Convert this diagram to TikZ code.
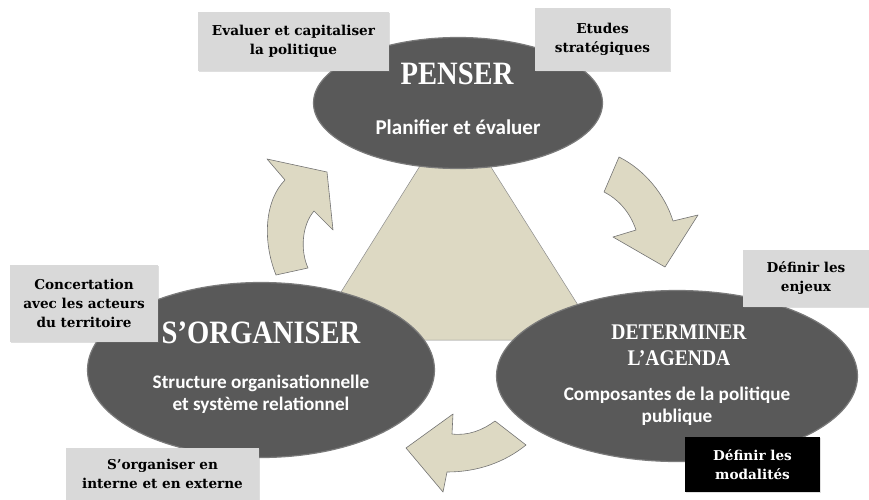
\documentclass[tikz,border=0pt]{standalone}
\usepackage{fontspec}
\usepackage{graphicx}
\setmainfont{Liberation Serif}
\newfontfamily\labelfont{DejaVu Serif}
\newfontfamily\subfont{Carlito}
\usepackage{tikz}
\usetikzlibrary{positioning, shapes.geometric, shadows}
\definecolor{ovalgray}{HTML}{595959}
\definecolor{sand}{HTML}{DDD9C3}
\definecolor{boxgray}{HTML}{D9D9D9}
\newcommand{\tall}[1]{\scalebox{1}[1.14]{#1}}

\begin{document}
\begin{tikzpicture}[x=1pt, y=-1pt,
  oval/.style={ellipse, fill=ovalgray, draw=ovalgray!80, line width=1.2pt, inner sep=0pt},
  heading/.style={text=white, font=\fontsize{28.6}{32}\selectfont\bfseries, align=center},
  sub/.style={text=white, font=\subfont\fontsize{19.2}{22}\selectfont\bfseries, align=center},
  tag/.style={fill=boxgray, font=\labelfont\fontsize{13.6}{19}\selectfont\bfseries, align=center, inner sep=0pt,
    drop shadow={opacity=0.25, shadow xshift=1pt, shadow yshift=-1pt}},
  turnarrow/.style={fill=sand, draw=black!55, line width=0.6pt, line join=round}]
  \useasboundingbox (0,0) rectangle (869,500);

  % triangle behind the three ovals
  \draw[fill=sand, draw=black!45, line width=0.5pt] (455,110) -- (311,340) -- (600,340) -- cycle;

  % curved arrows
  \draw[turnarrow] (267,159) -- (327,172) -- (333,230) -- (314,211)
    .. controls (302,225) and (300,250) .. (308,268) -- (276,275)
    .. controls (262,240) and (265,200) .. (285,180) -- cycle;
  \draw[turnarrow] (619,157) .. controls (645,170) and (665,195) .. (673,221)
    -- (698,215) -- (665,267) -- (613,237) -- (636,230)
    .. controls (630,212) and (618,199) .. (604,192) -- cycle;
  \draw[turnarrow] (406,448) -- (453,414) -- (452,434)
    .. controls (468,436) and (483,430) .. (495,421) -- (526,445)
    .. controls (505,462) and (478,472) .. (447,472) -- (443,492) -- cycle;

  % ovals
  \node[oval, minimum width=289pt, minimum height=131pt] (penser) at (458,103) {};
  \node[oval, minimum width=347pt, minimum height=175pt] (organiser) at (261,370) {};
  \node[oval, minimum width=361pt, minimum height=171pt] (agenda) at (677,376) {};

  % grey tags
  \node[tag, minimum width=191pt, minimum height=59pt] (evaluer) at (293.5,41.5) {Evaluer et capitaliser\\la politique};
  \node[tag, minimum width=135pt, minimum height=63pt] (etudes) at (602.5,39.5) {Etudes\\stratégiques};
  \node[tag, minimum width=148pt, minimum height=77pt] (concert) at (84,303.5) {Concertation\\avec les acteurs\\du territoire};
  \node[tag, minimum width=193pt, minimum height=52pt] (interne) at (162.5,474) {S’organiser en\\interne et en externe};
  \node[tag, minimum width=126pt, minimum height=57pt] (enjeux) at (806,278.5) {Définir les\\enjeux};
  \node[tag, fill=black, text=white, minimum width=135pt, minimum height=55pt] (modalites) at (752.5,464.5) {Définir les\\modalités};

  % texts inside the ovals
  \node[heading] (penserT) at ([xshift=-1pt, yshift=29pt]penser.center) {\tall{PENSER}};
  \node[sub, font=\subfont\fontsize{21}{24}\selectfont\bfseries] (penserS) at ([yshift=-24pt]penser.center) {Planifier et évaluer};
  \node[heading] (organiserT) at ([yshift=37pt]organiser.center) {\tall{S’ORGANISER}};
  \node[sub] (organiserS) at ([yshift=-24pt]organiser.center) {Structure organisationnelle\\et système relationnel};
  \node[heading, font=\fontsize{19.6}{26}\selectfont\bfseries] (agendaT) at ([xshift=2pt, yshift=31pt]agenda.center) {\tall{DETERMINER}\\\tall{L’AGENDA}};
  \node[sub] (agendaS) at ([yshift=-30pt]agenda.center) {Composantes de la politique\\publique};
\end{tikzpicture}
\end{document}
